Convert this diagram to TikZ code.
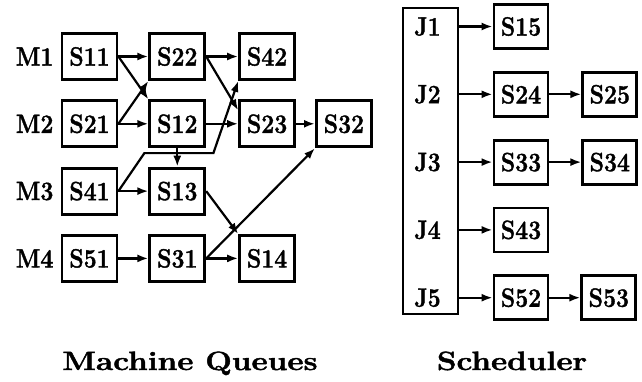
\documentclass[tikz,border=0pt]{standalone}
\usepackage{graphicx}
\usepackage{fontspec}
\usepackage{tikz}
\usetikzlibrary{arrows.meta, positioning, calc}
\newfontfamily\heavyfont{lmroman12-bold.otf}[FakeBold=1.5]
\newcommand{\tall}[1]{\scalebox{1}[1.15]{#1}}
\newcommand{\wide}[1]{\scalebox{1}[0.84]{#1}}
\tikzstyle{arrow} = [line width=2.2pt, -{Latex[length=11pt,width=8pt]}]
\tikzstyle{qbox} = [rectangle, draw=black, line width=2.8pt, minimum width=55pt, minimum height=46pt,
                    inner sep=1pt, font=\heavyfont\fontsize{23}{26}\selectfont]
\tikzstyle{sbox} = [qbox, minimum width=54pt, minimum height=44pt]
\tikzstyle{mlabel} = [font=\heavyfont\fontsize{23}{26}\selectfont, inner sep=1pt]
\tikzstyle{title} = [font=\heavyfont\fontsize{31.5}{34}\selectfont, anchor=base]

\begin{document}
\begin{tikzpicture}[x=1pt, y=1pt, node distance=18.5pt]
    \useasboundingbox (0,0) rectangle (642,-381);
    % Machine queues - four rows
    \node[qbox] at (89.5,-56.5) (S11) {\tall{S11}};
    \node[qbox, right=30pt of S11] (S22) {\tall{S22}};
    \node[qbox, right=32pt of S22] (S42) {\tall{S42}};

    \node[qbox, below=of S11] (S21) {\tall{S21}};
    \node[qbox, below=of S22] (S12) {\tall{S12}};
    \node[qbox, below=of S42] (S23) {\tall{S23}};
    \node[qbox, right=19pt of S23] (S32) {\tall{S32}};

    \node[qbox, below=of S21] (S41) {\tall{S41}};
    \node[qbox, below=of S12] (S13) {\tall{S13}};

    \node[qbox, below=of S41] (S51) {\tall{S51}};
    \node[qbox, below=of S13] (S31) {\tall{S31}};
    \node[qbox, right=32pt of S31] (S14) {\tall{S14}};

    % Machine names
    \node[mlabel, left=6pt of S11] (M1) {\tall{M1}};
    \node[mlabel, left=6pt of S21] (M2) {\tall{M2}};
    \node[mlabel, left=6pt of S41] (M3) {\tall{M3}};
    \node[mlabel, left=6pt of S51] (M4) {\tall{M4}};

    % Precedence arrows
    \draw[arrow] (S11) -- (S22);
    \draw[arrow] (S11.east) -- (S12.north west);
    \draw[arrow] (S21.east) -- (S22.south west);
    \draw[arrow] (S21) -- (S12);
    \draw[arrow] (S22) -- (S42);
    \draw[arrow] (S22.east) -- (S23.155);
    \draw[arrow] (S12) -- (S23);
    \draw[arrow] (S12) -- (S13);
    \draw[arrow] (S41.east) -- ++(26,38) -- ++(69,0) -- (S42.south west);
    \draw[arrow] (S41) -- (S13);
    \draw[arrow] (S23) -- (S32);
    \draw[arrow] (S13.east) -- (S14.north west);
    \draw[arrow] (S51) -- (S31);
    \draw[arrow] (S31) -- (S14);
    \draw[arrow] (S31.east) -- (S32.south west);

    % Scheduler
    \node[rectangle, draw=black, line width=2.8pt, minimum width=55pt, minimum height=306pt] at (430.5,-161) (J) {};
    \node[sbox] at (521,-26.5) (S15) {\tall{S15}};
    \node[sbox, below=21pt of S15] (S24) {\tall{S24}};
    \node[sbox, right=32pt of S24] (S25) {\tall{S25}};
    \node[sbox, below=21pt of S24] (S33) {\tall{S33}};
    \node[sbox, right=32pt of S33] (S34) {\tall{S34}};
    \node[sbox, below=21pt of S33] (S43) {\tall{S43}};
    \node[sbox, below=21pt of S43] (S52) {\tall{S52}};
    \node[sbox, right=31pt of S52] (S53) {\tall{S53}};

    \node[mlabel, xshift=-3pt] at (S15 -| J) (J1) {\tall{J1}};
    \node[mlabel, xshift=-3pt] at (S24 -| J) (J2) {\tall{J2}};
    \node[mlabel, xshift=-3pt] at (S33 -| J) (J3) {\tall{J3}};
    \node[mlabel, xshift=-3pt] at (S43 -| J) (J4) {\tall{J4}};
    \node[mlabel, xshift=-3pt] at (S52 -| J) (J5) {\tall{J5}};

    \draw[arrow] (J.east |- S15) -- (S15);
    \draw[arrow] (J.east |- S24) -- (S24);
    \draw[arrow] (S24) -- (S25);
    \draw[arrow] (J.east |- S33) -- (S33);
    \draw[arrow] (S33) -- (S34);
    \draw[arrow] (J.east |- S43) -- (S43);
    \draw[arrow] (J.east |- S52) -- (S52);
    \draw[arrow] (S52) -- (S53);

    % Captions
    \node[title] at (190,-370) (mq) {\wide{Machine Queues}};
    \node[title] at (512,-370) (sch) {\wide{Scheduler}};
\end{tikzpicture}
\end{document}
